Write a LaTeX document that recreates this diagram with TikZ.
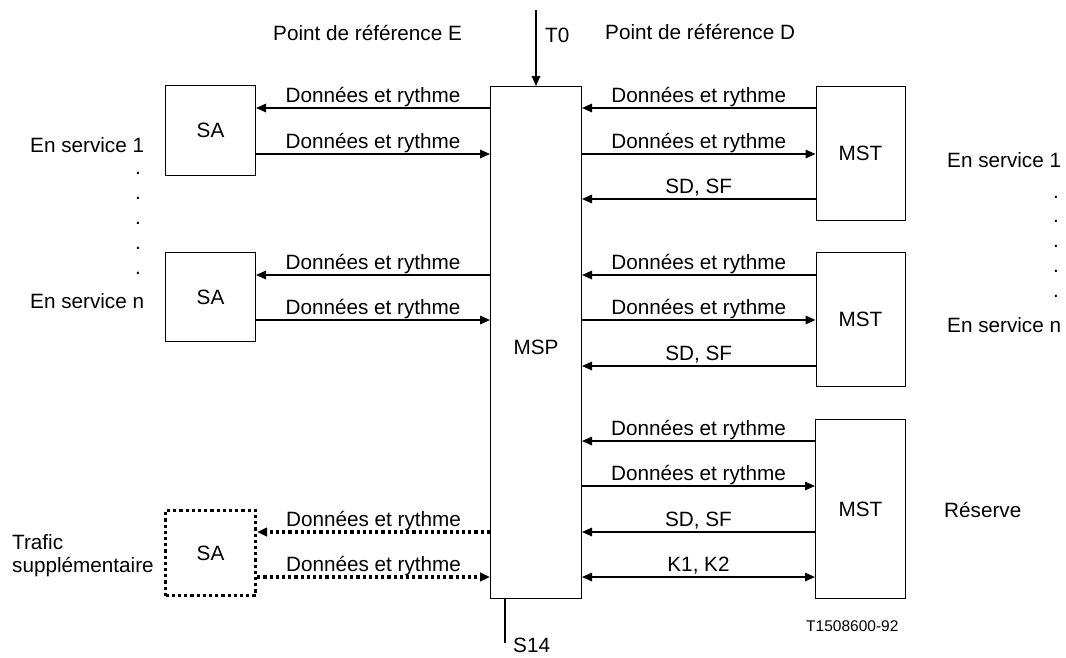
\documentclass[tikz,border=0pt]{standalone}
\usepackage{fontspec}
\setmainfont{Liberation Sans}
\usetikzlibrary{arrows.meta}
\newcommand\lblfont{\fontsize{20.7}{24}\selectfont}
\newcommand\smallfnt{\fontsize{15.5}{18}\selectfont}
\begin{document}
\begin{tikzpicture}[x=1pt,y=-1pt,
  >={Triangle[length=10pt,width=8.5pt]},
  box/.style={draw,line width=1pt,inner sep=0pt,font=\lblfont},
  dbox/.style={draw,line width=3.2pt,dash pattern=on 3.2pt off 3pt,inner sep=0pt,font=\lblfont},
  sig/.style={line width=1.6pt,->},
  dsig/.style={line width=3.2pt,dash pattern=on 3.2pt off 3pt,->},
  lab/.style={anchor=base,inner sep=0pt,yshift=6pt,font=\lblfont},
  txt/.style={inner sep=0pt,font=\lblfont,anchor=base west},
  dot/.style={inner sep=0pt,font=\lblfont,anchor=base}
]
\useasboundingbox (0,0) rectangle (1066,657);

% boxes
\node[box,minimum width=90pt,minimum height=90pt] (SA1) at (210.5,130.5) {SA};
\node[box,minimum width=90pt,minimum height=89pt] (SA2) at (210.5,297) {SA};
\node[dbox,minimum width=90pt,minimum height=85pt] (SA3) at (210.5,553) {SA};
\node[box,minimum width=91pt,minimum height=512pt,
      label={[inner sep=0pt,font=\lblfont,yshift=-4.5pt]center:MSP}] (MSP) at (536,342.5) {};
\node[box,minimum width=89pt,minimum height=134pt] (MST1) at (860.5,153.5) {MST};
\node[box,minimum width=89pt,minimum height=134pt] (MST2) at (860.5,319.5) {MST};
\node[box,minimum width=90pt,minimum height=179pt] (MST3) at (860.5,509) {MST};

% row coordinates
\foreach \r in {108,154,199,275,320,366,441,486,532,577}
  \coordinate (r\r) at (0,\r);

% left side
\draw[sig] (MSP.west |- r108) -- node[lab]{Données et rythme} (SA1.east |- r108);
\draw[sig] (SA1.east |- r154) -- node[lab]{Données et rythme} (MSP.west |- r154);
\draw[sig] (MSP.west |- r275) -- node[lab]{Données et rythme} (SA2.east |- r275);
\draw[sig] (SA2.east |- r320) -- node[lab]{Données et rythme} (MSP.west |- r320);
\draw[dsig] (MSP.west |- r532) -- node[lab]{Données et rythme} (SA3.east |- r532);
\draw[dsig] (SA3.east |- r577) -- node[lab]{Données et rythme} (MSP.west |- r577);

% right side
\draw[sig] (MST1.west |- r108) -- node[lab]{Données et rythme} (MSP.east |- r108);
\draw[sig] (MSP.east |- r154) -- node[lab]{Données et rythme} (MST1.west |- r154);
\draw[sig] (MST1.west |- r199) -- node[lab]{SD, SF} (MSP.east |- r199);
\draw[sig] (MST2.west |- r275) -- node[lab]{Données et rythme} (MSP.east |- r275);
\draw[sig] (MSP.east |- r320) -- node[lab]{Données et rythme} (MST2.west |- r320);
\draw[sig] (MST2.west |- r366) -- node[lab]{SD, SF} (MSP.east |- r366);
\draw[sig] (MST3.west |- r441) -- node[lab]{Données et rythme} (MSP.east |- r441);
\draw[sig] (MSP.east |- r486) -- node[lab]{Données et rythme} (MST3.west |- r486);
\draw[sig] (MST3.west |- r532) -- node[lab]{SD, SF} (MSP.east |- r532);
\draw[line width=1.6pt,<->] (MSP.east |- r577) -- node[lab]{K1, K2} (MST3.west |- r577);

% T0 and S14
\coordinate (T0top) at (536,10);
\draw[sig] (T0top) -- (T0top |- MSP.north);
\coordinate (S14end) at (505,643);
\draw[line width=1.6pt] (S14end |- MSP.south) -- (S14end);

% texts
\node[txt] (PE) at (273,40) {Point de référence E};
\node[txt] (T0) at (545,42) {T0};
\node[txt] (PD) at (605,39) {Point de référence D};
\node[txt] (S14) at (513,652) {S14};

\node[txt] (L1) at (30,152) {En service 1};
\foreach \d [count=\i] in {173,198,223,248,273}
  \node[dot] (LD\i) at (138,\d+1.5) {.};
\node[txt] (Ln) at (30,308) {En service n};

\node[txt] (R1) at (947,167) {En service 1};
\foreach \d [count=\i] in {197,221,246,271,296}
  \node[dot] (RD\i) at (1056,\d+1.5) {.};
\node[txt] (Rn) at (947,332) {En service n};

\node[txt] (TR1) at (12,549) {Trafic};
\node[txt] (TR2) at (12,572) {supplémentaire};
\node[txt] (RES) at (944,517) {Réserve};
\node[txt,font=\smallfnt] (REF) at (806,631) {T1508600-92};
\end{tikzpicture}
\end{document}
